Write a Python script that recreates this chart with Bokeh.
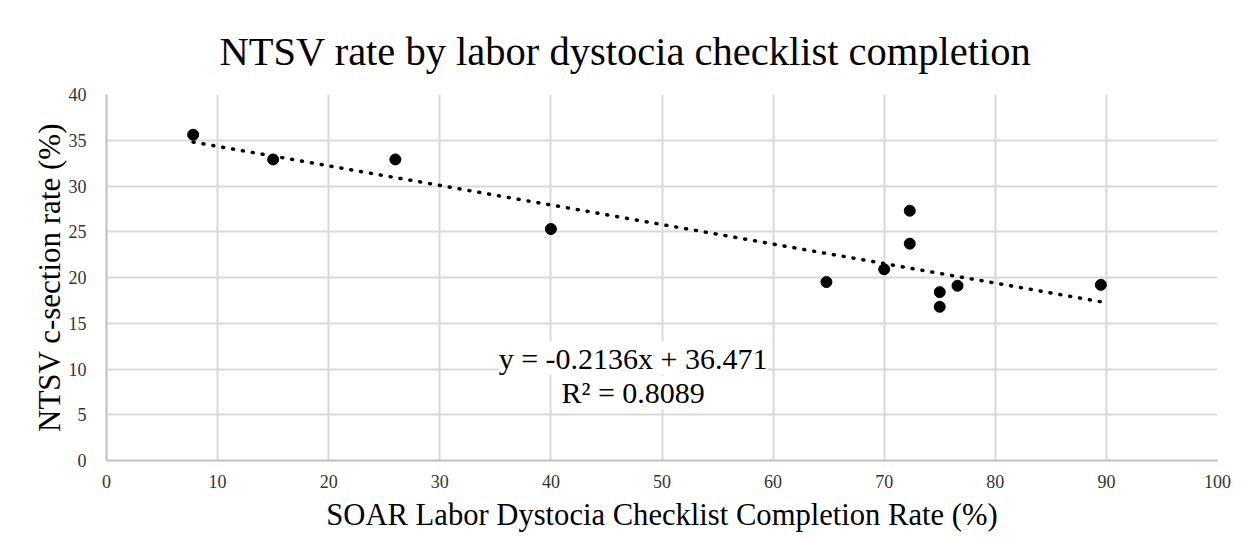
from bokeh.plotting import figure
from bokeh.models import Label, Range1d, FixedTicker
from bokeh.embed import file_html
from bokeh.resources import INLINE

# Data
completion_rate = [7.8, 15.0, 26.0, 40.0, 64.8, 70.0, 72.3, 72.3, 75.0, 75.0, 76.6, 89.5]
ntsv_rate = [35.6, 32.9, 32.9, 25.3, 19.5, 20.9, 27.3, 23.7, 18.4, 16.8, 19.1, 19.2]
trend_slope = -0.2136
trend_intercept = 36.471
r_squared = 0.8089
x_ticks = [0, 10, 20, 30, 40, 50, 60, 70, 80, 90, 100]
y_ticks = [0, 5, 10, 15, 20, 25, 30, 35, 40]

FONT = "Liberation Serif"

p = figure(width=1232, height=536, output_backend="svg", toolbar_location=None,
           x_range=Range1d(0, 100), y_range=Range1d(0, 40),
           min_border_left=106, min_border_right=15, min_border_top=94, min_border_bottom=76)

p.title.text = "NTSV rate by labor dystocia checklist completion"
p.title.text_font = FONT
p.title.text_font_size = "40.5px"
p.title.text_font_style = "normal"
p.title.text_color = "#000000"
p.title.align = "left"
p.title.offset = 113
p.title.standoff = 42

p.outline_line_color = None
p.background_fill_color = "white"
p.border_fill_color = "white"

for g in (p.xgrid, p.ygrid):
    g.grid_line_color = "#d9d9d9"
    g.grid_line_width = 2
p.xgrid.ticker = FixedTicker(ticks=x_ticks)
p.ygrid.ticker = FixedTicker(ticks=y_ticks)

p.xaxis.ticker = FixedTicker(ticks=x_ticks)
p.yaxis.ticker = FixedTicker(ticks=y_ticks)
for ax in (p.xaxis[0], p.yaxis[0]):
    ax.axis_line_color = "#bfbfbf"
    ax.axis_line_width = 2
    ax.major_tick_line_color = None
    ax.minor_tick_line_color = None
    ax.major_label_text_font = FONT
    ax.major_label_text_font_size = "18px"
    ax.major_label_text_color = "#333333"
    ax.axis_label_text_font = FONT
    ax.axis_label_text_font_style = "normal"
    ax.axis_label_text_color = "#000000"
p.xaxis.axis_label_text_font_size = "30.6px"
p.yaxis.axis_label_text_font_size = "31px"
p.xaxis.axis_label = "SOAR Labor Dystocia Checklist Completion Rate (%)"
p.yaxis.axis_label = "NTSV c-section rate (%)"
p.xaxis.major_label_standoff = 8
p.yaxis.major_label_standoff = 14
p.xaxis.axis_label_standoff = 7
p.yaxis.axis_label_standoff = -1

# Trend line drawn from the fitted equation over the data's x extent
x0, x1 = min(completion_rate), max(completion_rate)
p.line([x0, x1], [trend_slope * x0 + trend_intercept, trend_slope * x1 + trend_intercept],
       line_color="black", line_width=3.5, line_dash="1 9", line_cap="round")

p.scatter(completion_rate, ntsv_rate, size=11, color="black")

eq1 = Label(x=47.4, y=11.2, text=f"y = {trend_slope}x + {trend_intercept}",
            text_font=FONT, text_font_size="30px", text_align="center", text_baseline="middle",
            background_fill_color="white", text_color="black")
eq2 = Label(x=47.4, y=7.4, text=f"R² = {r_squared}",
            text_font=FONT, text_font_size="30px", text_align="center", text_baseline="middle",
            background_fill_color="white", text_color="black")
p.add_layout(eq1)
p.add_layout(eq2)

open("out.html", "w").write(file_html(p, INLINE))
